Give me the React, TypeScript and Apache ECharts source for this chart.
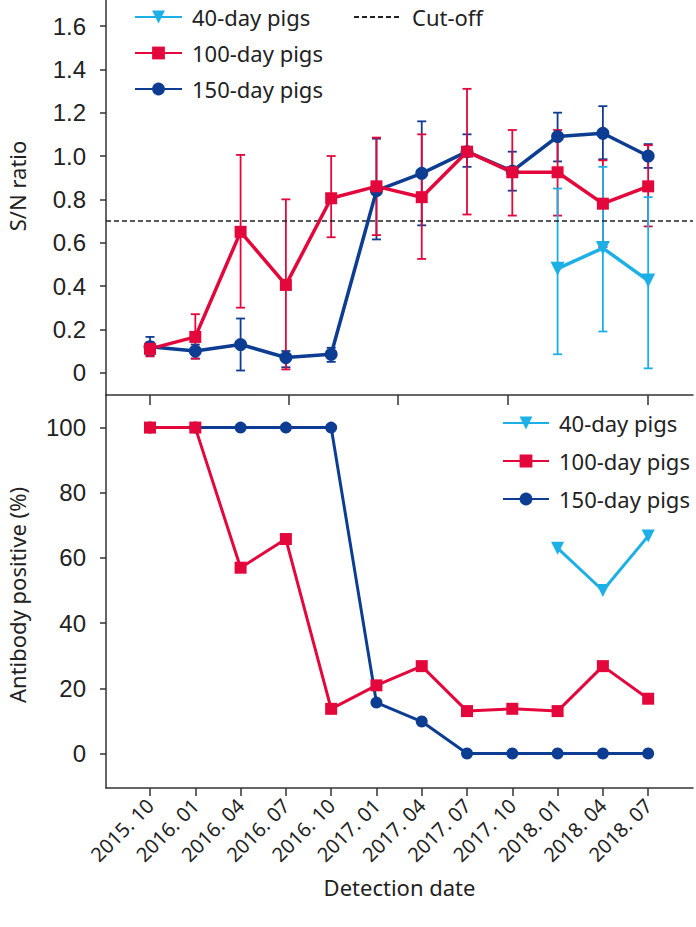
import React, { useEffect, useRef } from 'react';
import * as echarts from 'echarts';

// ---- data ----
const dates = ['2015. 10', '2016. 01', '2016. 04', '2016. 07', '2016. 10', '2017. 01', '2017. 04', '2017. 07', '2017. 10', '2018. 01', '2018. 04', '2018. 07'];
const datePos = [0, 1, 2, 3, 4, 5, 6, 7, 8, 9, 10, 11];

// S/N ratio (top panel)
const sn40 = [null, null, null, null, null, null, null, null, null, 0.48, 0.575, 0.425];
const sn40Upper = [null, null, null, null, null, null, null, null, null, 0.85, 0.95, 0.81];
const sn40Lower = [null, null, null, null, null, null, null, null, null, 0.085, 0.19, 0.02];

const sn100 = [0.11, 0.165, 0.65, 0.405, 0.805, 0.86, 0.81, 1.02, 0.925, 0.925, 0.78, 0.86];
const sn100Upper = [0.14, 0.27, 1.005, 0.8, 1.0, 1.085, 1.1, 1.31, 1.12, 1.12, 0.98, 1.05];
const sn100Lower = [0.075, 0.065, 0.3, 0.015, 0.625, 0.635, 0.525, 0.73, 0.725, 0.725, 0.58, 0.675];

const sn150 = [0.12, 0.1, 0.13, 0.07, 0.085, 0.84, 0.92, 1.02, 0.93, 1.09, 1.105, 1.0];
const sn150Upper = [0.165, 0.13, 0.25, 0.1, 0.115, 1.08, 1.16, 1.1, 1.02, 1.2, 1.23, 1.055];
const sn150Lower = [0.08, 0.065, 0.01, 0.025, 0.05, 0.615, 0.68, 0.95, 0.84, 0.975, 0.985, 0.945];

const cutoff = 0.7;

// Antibody positive % (bottom panel)
const pos40 = [null, null, null, null, null, null, null, null, null, 63, 50, 66.7];
const pos100 = [100, 100, 57, 65.8, 13.7, 20.9, 26.8, 13, 13.7, 13, 26.8, 16.8];
const pos150 = [100, 100, 100, 100, 100, 15.6, 9.8, 0, 0, 0, 0, 0];

// tick values
const snTicks = [0, 0.2, 0.4, 0.6, 0.8, 1.0, 1.2, 1.4, 1.6];
const posTicks = [0, 20, 40, 60, 80, 100];
const topPanelXTicks = [0, 3.07, 5.48, 7.91, 11];

const C40 = '#1cb0e6';
const C100 = '#e4073c';
const C150 = '#0d3d92';
const AX = '#333333';
const TXT = '#222222';
const SANS = 'Noto Sans';

const X_MIN = -0.972;
const X_MAX = 11.99;

function pairs(vals: (number | null)[]) {
  const out: number[][] = [];
  vals.forEach((v, i) => {
    if (v !== null) out.push([datePos[i], v]);
  });
  return out;
}

function errPairs(lo: (number | null)[], hi: (number | null)[]) {
  const out: number[][] = [];
  lo.forEach((v, i) => {
    const h = hi[i];
    if (v !== null && h !== null) out.push([datePos[i], v, h]);
  });
  return out;
}

function errSeries(name: string, color: string, lo: (number | null)[], hi: (number | null)[]) {
  return {
    type: 'custom',
    name,
    xAxisIndex: 0,
    yAxisIndex: 0,
    data: errPairs(lo, hi),
    encode: { x: 0, y: [1, 2] },
    renderItem: (params: any, api: any) => {
      const x = api.value(0);
      const a = api.coord([x, api.value(1)]);
      const b = api.coord([x, api.value(2)]);
      const hw = 4.5;
      const style = { stroke: color, lineWidth: 1.8, fill: 'none' };
      return {
        type: 'group',
        children: [
          { type: 'line', shape: { x1: a[0], y1: a[1], x2: b[0], y2: b[1] }, style },
          { type: 'line', shape: { x1: a[0] - hw, y1: a[1], x2: a[0] + hw, y2: a[1] }, style },
          { type: 'line', shape: { x1: b[0] - hw, y1: b[1], x2: b[0] + hw, y2: b[1] }, style },
        ],
      };
    },
  };
}

function lineSeries(name: string, color: string, vals: (number | null)[], idx: number, symbol: string, size: number, width: number, rotate = 0) {
  return {
    type: 'line',
    name,
    xAxisIndex: idx,
    yAxisIndex: idx,
    data: pairs(vals),
    symbol,
    symbolSize: size,
    symbolRotate: rotate,
    showAllSymbol: true,
    lineStyle: { color, width },
    itemStyle: { color },
  };
}

export default function App() {
  const ref = useRef<HTMLDivElement>(null);
  useEffect(() => {
    document.body.style.margin = '0';
    if (!ref.current) return;
    const chart = echarts.init(ref.current, null, { renderer: 'svg' });
    const legendText = { fontFamily: SANS, fontSize: 22, color: TXT, lineHeight: 26, padding: [0, 0, 0, 5] };
    const axisLine = { show: true, onZero: false, lineStyle: { color: AX, width: 1.5 } };
    chart.setOption({
      animation: false,
      backgroundColor: '#ffffff',
      grid: [
        { left: 106, top: 0, width: 587, height: 395 },
        { left: 106, top: 395, width: 587, height: 393 },
      ],
      legend: [
        {
          orient: 'vertical',
          left: 134,
          top: 4,
          padding: 0,
          itemWidth: 47,
          itemHeight: 16,
          itemGap: 10,
          data: ['40-day pigs', '100-day pigs', '150-day pigs'],
          textStyle: legendText,
        },
        {
          orient: 'vertical',
          left: 353,
          top: 4,
          padding: 0,
          itemWidth: 48,
          itemHeight: 16,
          data: [{ name: 'Cut-off', itemStyle: { color: 'rgba(0,0,0,0)', opacity: 0 } }],
          textStyle: legendText,
        },
        {
          orient: 'vertical',
          left: 502,
          top: 410,
          padding: 0,
          itemWidth: 46,
          itemHeight: 16,
          itemGap: 12,
          data: ['40-day pigs', '100-day pigs', '150-day pigs'],
          textStyle: legendText,
        },
      ],
      xAxis: [
        {
          gridIndex: 0,
          type: 'value',
          min: X_MIN,
          max: X_MAX,
          axisLine,
          axisTick: { show: true, customValues: topPanelXTicks, length: 10, lineStyle: { color: AX, width: 1.5 } },
          axisLabel: { show: false },
          splitLine: { show: false },
        },
        {
          gridIndex: 1,
          type: 'value',
          min: X_MIN,
          max: X_MAX,
          axisLine,
          axisTick: { show: true, customValues: datePos, length: 8, lineStyle: { color: AX, width: 1.5 } },
          axisLabel: {
            customValues: datePos,
            formatter: (v: number) => dates[Math.round(v)] ?? '',
            rotate: 45,
            fontFamily: SANS,
            fontSize: 20,
            color: TXT,
            margin: 14,
          },
          splitLine: { show: false },
          name: 'Detection date',
          nameLocation: 'middle',
          nameGap: 88,
          nameTextStyle: { fontFamily: SANS, fontSize: 22, color: TXT },
        },
      ],
      yAxis: [
        {
          gridIndex: 0,
          type: 'value',
          min: -0.103,
          max: 1.72,
          axisLine,
          axisTick: { show: true, customValues: snTicks, length: 6, lineStyle: { color: AX, width: 1.5 } },
          axisLabel: {
            customValues: snTicks,
            formatter: (v: number) => (v === 0 ? '0' : v.toFixed(1)),
            fontFamily: 'Liberation Sans',
            fontSize: 24,
            color: TXT,
            margin: 20,
          },
          splitLine: { show: false },
        },
        {
          gridIndex: 1,
          type: 'value',
          min: -10.6,
          max: 110,
          axisLine,
          axisTick: { show: true, customValues: posTicks, length: 6, lineStyle: { color: AX, width: 1.5 } },
          axisLabel: {
            customValues: posTicks,
            formatter: (v: number) => String(v),
            fontFamily: 'Liberation Sans',
            fontSize: 24,
            color: TXT,
            margin: 20,
          },
          splitLine: { show: false },
        },
      ],
      graphic: [
        {
          type: 'text',
          x: 17,
          y: 186,
          rotation: Math.PI / 2,
          style: { text: 'S/N ratio', fontFamily: SANS, fontSize: 22, fill: TXT, align: 'center', verticalAlign: 'middle' },
        },
        {
          type: 'text',
          x: 17,
          y: 595,
          rotation: Math.PI / 2,
          style: { text: 'Antibody positive (%)', fontFamily: SANS, fontSize: 22, fill: TXT, align: 'center', verticalAlign: 'middle' },
        },
      ],
      series: [
        {
          type: 'line',
          name: 'Cut-off',
          xAxisIndex: 0,
          yAxisIndex: 0,
          data: [[X_MIN, cutoff], [X_MAX, cutoff]],
          symbol: 'none',
          lineStyle: { color: '#222222', width: 1.5, type: [5, 3] },
          itemStyle: { color: '#222222' },
        },
        errSeries('150 err', C150, sn150Lower, sn150Upper),
        lineSeries('150-day pigs', C150, sn150, 0, 'circle', 13, 3.5),
        errSeries('100 err', C100, sn100Lower, sn100Upper),
        lineSeries('100-day pigs', C100, sn100, 0, 'rect', 12, 3.5),
        errSeries('40 err', C40, sn40Lower, sn40Upper),
        lineSeries('40-day pigs', C40, sn40, 0, 'triangle', 14, 3.5, 180),
        lineSeries('150-day pigs', C150, pos150, 1, 'circle', 12, 3),
        lineSeries('100-day pigs', C100, pos100, 1, 'rect', 12, 3),
        lineSeries('40-day pigs', C40, pos40, 1, 'triangle', 13, 3, 180),
      ],
    });
    return () => chart.dispose();
  }, []);
  return <div ref={ref} style={{ width: 696, height: 927 }} />;
}
